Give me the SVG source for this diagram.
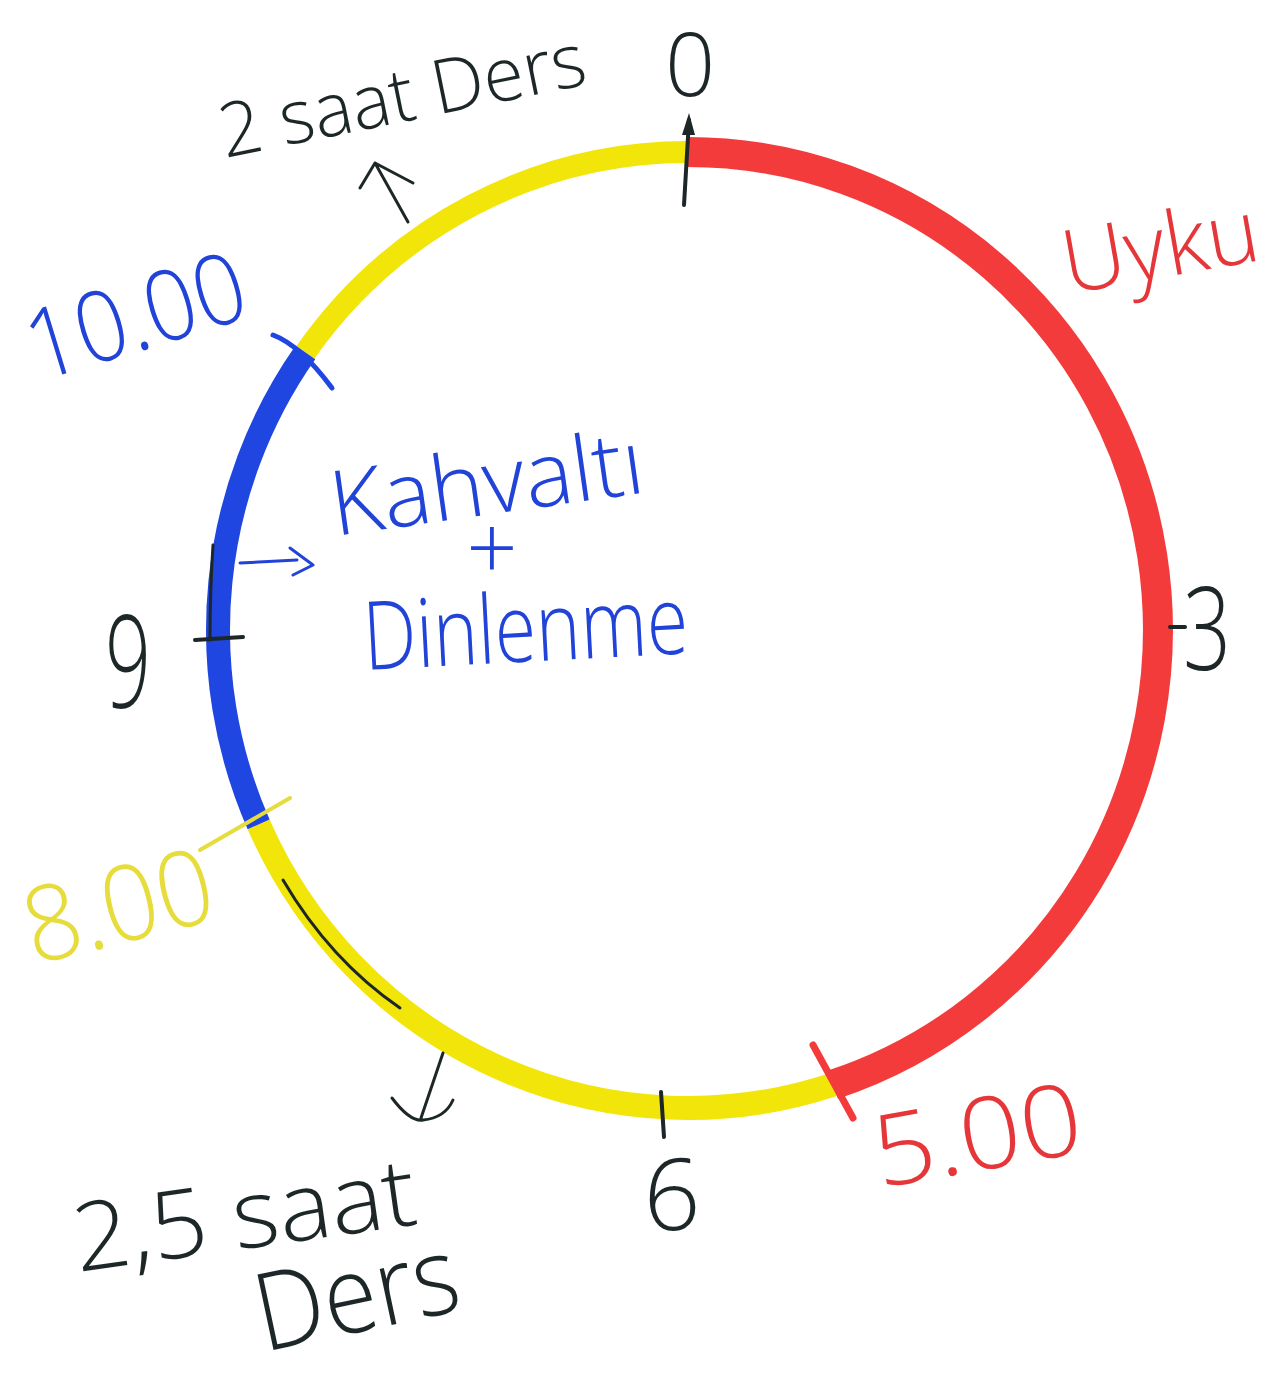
<svg xmlns="http://www.w3.org/2000/svg" width="1286" height="1386" viewBox="0 0 1286 1386">
<style>
.t{font-family:"Open Sans","Liberation Sans",sans-serif;font-weight:300}
.k{fill:#1d2727}
.bl{fill:#2143d8}
.rd{fill:#e5363a}
.yl{fill:#e6dc3c}
.ln{fill:none;stroke-linecap:round;stroke-linejoin:round}
.arc{fill:none;stroke-linecap:butt}
</style>
<rect width="1286" height="1386" fill="#ffffff"/>
<g id="ring">
<path class="arc" d="M 305.4 352.4 A 470 478 0 0 1 688 152" stroke="#f2e50a" stroke-width="22"/>
<path class="arc" d="M 833.2 1084.6 A 470 478 0 0 1 258.6 824.4" stroke="#f2e50a" stroke-width="24"/>
<path class="arc" d="M 688 152 A 470 478 0 0 1 833.2 1084.6" stroke="#f43b3b" stroke-width="30"/>
<path class="arc" d="M 258.6 824.4 A 470 478 0 0 1 305.4 352.4" stroke="#1f46e0" stroke-width="24"/>
<path class="ln" d="M 283 880 Q 330 960 400 1008" stroke="#1d2727" stroke-width="3"/>
<path class="ln" d="M 213 545 Q 210 590 210 640" stroke="#1d2727" stroke-width="3"/>
</g>
<g id="ticks">
<path class="ln" d="M 684 205 L 689 120" stroke="#1d2727" stroke-width="4"/>
<path d="M 689 113 L 682 135 L 695 135 Z" fill="#1d2727"/>
<path class="ln" d="M 1170 627 L 1185 627" stroke="#1d2727" stroke-width="4"/>
<path class="ln" d="M 661 1092 L 664 1137" stroke="#1d2727" stroke-width="4"/>
<path class="ln" d="M 195 640 L 243 637" stroke="#1d2727" stroke-width="4"/>
<path class="ln" d="M 273 335 Q 300 345 332 388" stroke="#1f46e0" stroke-width="5"/>
<path class="ln" d="M 200 850 L 290 798" stroke="#e6dc3c" stroke-width="4"/>
<path class="ln" d="M 813 1045 L 853 1118" stroke="#f43b3b" stroke-width="7"/>
</g>
<g id="arrows">
<path class="ln" d="M 408 222 L 375 163 M 360 188 L 375 163 L 413 183" stroke="#1d2727" stroke-width="3"/>
<path class="ln" d="M 443 1053 L 421 1118 M 392 1098 Q 410 1122 423 1120 Q 445 1118 453 1100" stroke="#1d2727" stroke-width="3"/>
<path class="ln" d="M 240 563 L 297 560 M 290 548 L 313 565 L 293 575" stroke="#2143d8" stroke-width="3"/>
</g>
<g id="labels">
<text class="t k" font-size="75" transform="translate(225,158) rotate(-11.5)" textLength="372" lengthAdjust="spacingAndGlyphs">2 saat Ders</text>
<text class="t k" font-size="88" x="690" y="96" text-anchor="middle">0</text>
<text class="t rd" font-size="88" transform="translate(1068,294) rotate(-10)" textLength="198" lengthAdjust="spacingAndGlyphs">Uyku</text>
<text class="t k" font-size="117" transform="translate(1207,670) scale(0.72,1)" text-anchor="middle">3</text>
<text class="t k" font-size="130" transform="translate(128,708) scale(0.62,1)" text-anchor="middle">9</text>
<text class="t k" font-size="100" x="672" y="1230" text-anchor="middle">6</text>
<text class="t bl" font-size="98" transform="translate(38,382) rotate(-17)" textLength="225" lengthAdjust="spacingAndGlyphs">10.00</text>
<text class="t yl" font-size="105" transform="translate(34,965) rotate(-14)" textLength="192" lengthAdjust="spacingAndGlyphs">8.00</text>
<text class="t rd" font-size="100" transform="translate(880,1188) rotate(-10)" textLength="210" lengthAdjust="spacingAndGlyphs">5.00</text>
<text class="t bl" font-size="90" transform="translate(335,536) rotate(-8)" textLength="315" lengthAdjust="spacingAndGlyphs">Kahvaltı</text>
<text class="t bl" font-size="90" x="492" y="580" text-anchor="middle">+</text>
<text class="t bl" font-size="95" transform="translate(365,670) rotate(-3)" textLength="325" lengthAdjust="spacingAndGlyphs">Dinlenme</text>
<text class="t k" font-size="95" transform="translate(78,1272) rotate(-8)" textLength="345" lengthAdjust="spacingAndGlyphs">2,5 saat</text>
<text class="t k" font-size="108" transform="translate(264,1352) rotate(-12)" textLength="205" lengthAdjust="spacingAndGlyphs">Ders</text>
</g>
</svg>
